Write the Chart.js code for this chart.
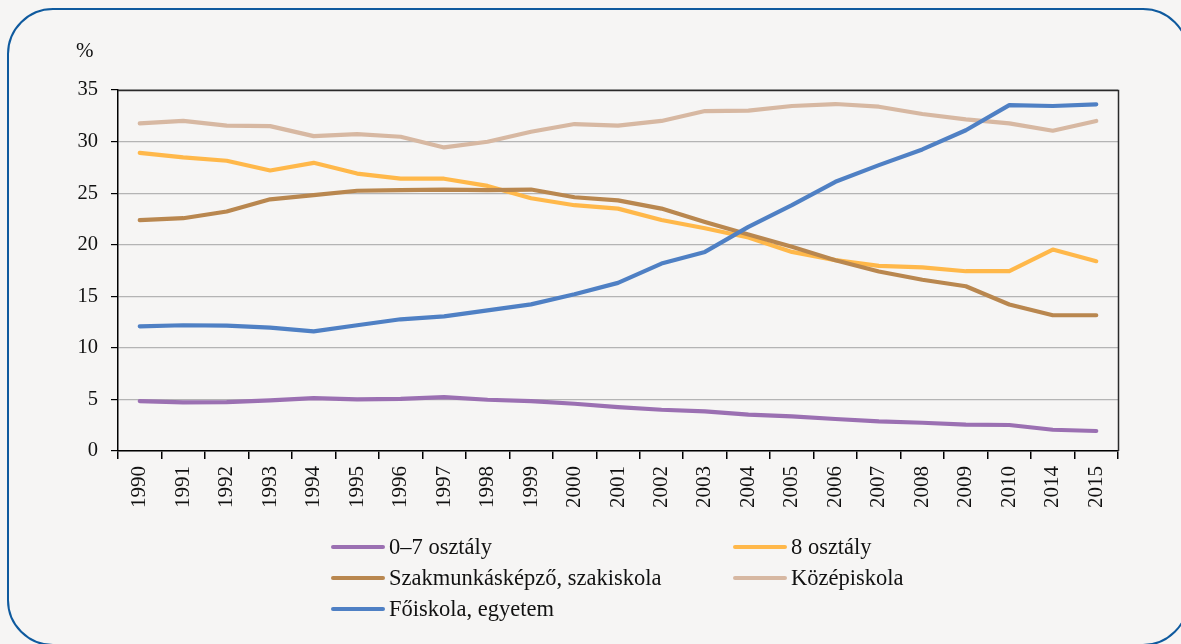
<!DOCTYPE html>
<html>
<head>
<meta charset="utf-8">
<script src="https://cdn.jsdelivr.net/npm/chart.js@4/dist/chart.umd.min.js"></script>
<style>
html,body{margin:0;padding:0;background:#f6f5f4;}
#wrap{position:relative;width:1181px;height:644px;overflow:hidden;background:#f6f5f4;font-family:"Liberation Serif","DejaVu Serif",serif;}
#frame{position:absolute;left:7px;top:8px;width:1182px;height:638px;border:2px solid #0f5a9e;border-radius:46px;box-sizing:border-box;}
#cv{position:absolute;left:0;top:0;}
#pct{position:absolute;left:76px;top:38px;font-size:21px;line-height:24px;color:#111;}
.lg{position:absolute;height:24px;display:flex;align-items:center;font-size:22.5px;color:#111;white-space:nowrap;}
.lg .sw{width:54px;height:4.5px;border-radius:2.5px;margin-right:4px;}
</style>
</head>
<body>
<div id="wrap">
<div id="frame"></div>
<canvas id="cv" width="1181" height="644"></canvas>
<div id="pct">%</div>
<div id="legend"></div>
</div>
<script>
const years = ['1990','1991','1992','1993','1994','1995','1996','1997','1998','1999','2000','2001','2002','2003','2004','2005','2006','2007','2008','2009','2010','2014','2015'];
const yTicks = [0,5,10,15,20,25,30,35];
const labels = ['0–7 osztály','8 osztály','Szakmunkásképző, szakiskola','Középiskola','Főiskola, egyetem'];
const s07 = [4.84,4.71,4.74,4.9,5.13,5.0,5.06,5.23,4.97,4.84,4.58,4.26,4.0,3.84,3.52,3.35,3.1,2.87,2.74,2.55,2.52,2.06,1.94];
const s8 = [28.9,28.46,28.14,27.2,27.94,26.9,26.4,26.4,25.7,24.5,23.83,23.5,22.4,21.6,20.7,19.3,18.5,17.95,17.8,17.43,17.43,19.53,18.4];
const sSzak = [22.38,22.57,23.22,24.4,24.8,25.23,25.3,25.35,25.3,25.35,24.6,24.3,23.5,22.2,21.0,19.8,18.5,17.4,16.6,15.97,14.2,13.16,13.16];
const sKozep = [31.76,32.0,31.54,31.5,30.53,30.73,30.47,29.43,29.98,30.95,31.7,31.54,32.0,32.96,33.0,33.45,33.64,33.38,32.67,32.15,31.76,31.05,32.0];
const sFo = [12.09,12.19,12.15,11.96,11.6,12.19,12.77,13.06,13.64,14.22,15.2,16.3,18.17,19.3,21.73,23.83,26.1,27.72,29.24,31.1,33.54,33.45,33.6];
const colors = ['#9b70b2','#ffb84a','#b9874f','#d7b8a2','#4f80c4'];
const series = [s07,s8,sSzak,sKozep,sFo];

const FONT = "'Liberation Serif','DejaVu Serif',serif";

const frame = {
  id:'frame',
  afterDatasetsDraw(chart){
    const a = chart.chartArea, c = chart.ctx;
    c.save();
    c.strokeStyle = '#2a2a2a';
    c.lineWidth = 1.5;
    c.beginPath();
    c.moveTo(a.left, a.top+0.5); c.lineTo(a.right+0.5, a.top+0.5); c.lineTo(a.right+0.5, a.bottom);
    c.stroke();
    c.restore();
  }
};

new Chart(document.getElementById('cv'), {
  type:'line',
  data:{
    labels: years,
    datasets: series.map((d,i)=>({
      label: labels[i], data: d, borderColor: colors[i], backgroundColor: colors[i],
      borderWidth: 4.2, pointRadius: 0, tension: 0, fill: false,
      borderCapStyle: 'round', borderJoinStyle: 'round', order: 4 - i
    }))
  },
  options:{
    responsive:false, animation:false,
    layout:{padding:{left:0,top:90,right:63,bottom:0}},
    plugins:{legend:{display:false}, tooltip:{enabled:false}},
    scales:{
      x:{
        offset:true,
        grid:{display:true, offset:true, drawOnChartArea:false, drawTicks:true, tickLength:8, tickColor:'#000', lineWidth:1.5},
        border:{display:true, color:'#000', width:1.5},
        ticks:{minRotation:90, maxRotation:90, padding:7, color:'#111', font:{family:FONT, size:21}, autoSkip:false},
        afterFit(s){ s.height = 644 - 451; }
      },
      y:{
        min:0, max:35,
        afterBuildTicks(s){ s.ticks = yTicks.map(v=>({value:v})); },
        grid:{color:'#b4b4b4', lineWidth:1.2, drawTicks:true, tickLength:7, tickColor:'#000'},
        border:{display:true, color:'#000', width:1.5},
        ticks:{padding:13, color:'#111', font:{family:FONT, size:20.5}},
        afterFit(s){ s.width = 118; }
      }
    }
  },
  plugins:[frame]
});

// HTML legend built from the series definitions
const pos = [[331,547],[733,547],[331,578],[733,578],[331,609]];
const lg = document.getElementById('legend');
labels.forEach((t,i)=>{
  const d = document.createElement('div');
  d.className='lg';
  d.style.left = pos[i][0]+'px';
  d.style.top = (pos[i][1]-12)+'px';
  d.innerHTML = '<span class="sw" style="background:'+colors[i]+'"></span><span>'+t+'</span>';
  lg.appendChild(d);
});
</script>
</body>
</html>
